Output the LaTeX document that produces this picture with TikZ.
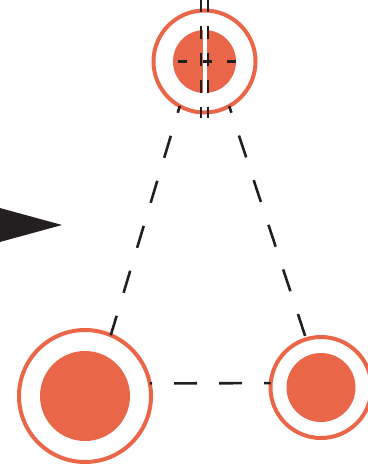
\documentclass[tikz,border=0pt]{standalone}
\definecolor{ringOrange}{HTML}{EA6649}
\definecolor{lineBlack}{HTML}{231F20}

\begin{document}
\begin{tikzpicture}[
    x=1pt, y=-1pt,
    ring/.style={
        circle, draw=ringOrange,
        line width=4pt, inner sep=0pt, outer sep=0pt
    },
    dot/.style={
        circle, fill=ringOrange,
        inner sep=0pt, outer sep=0pt
    },
    link/.style={
        draw=lineBlack, line width=2.6pt,
        dash pattern=on 23pt off 24pt, dash phase=16pt
    },
    crosshair/.style={
        draw=lineBlack, line width=2.4pt
    }
]
  \useasboundingbox (0,0) rectangle (367,468);

  % Nodes
  \node[dot, minimum size=63pt] (topdot) at (204.5,61.5) {};
  \node[ring, minimum size=102pt] (top) at (204.5,61.5) {};

  \node[dot, minimum size=90pt] (leftdot) at (85,396) {};
  \node[ring, minimum size=132pt] (left) at (85,396) {};

  \node[dot, minimum size=69pt] (rightdot) at (321,387.5) {};
  \node[ring, minimum size=101pt] (right) at (321,387.5) {};

  % Crosshair through the top node
  \draw[white, line width=4pt] ([yshift=32pt]topdot.center) -- ([yshift=-32pt]topdot.center);
  \draw[crosshair, dash pattern=on 13pt off 14pt]
      ([xshift=-3.7pt, yshift=62.5pt]top.center) -- ([xshift=-3.7pt, yshift=-56.5pt]top.center);
  \draw[crosshair, dash pattern=on 13pt off 14pt]
      ([xshift=3.7pt, yshift=62.5pt]top.center) -- ([xshift=3.7pt, yshift=-56.5pt]top.center);
  \draw[crosshair, dash pattern=on 9pt off 15.5pt]
      ([xshift=-26.5pt]top.center) -- ([xshift=31.5pt]top.center);

  % Dashed links
  \draw[link] (top.241) -- (left.67);
  \draw[link] (top.299) -- (right.107);
  \draw[link, dash phase=20.7pt, dash pattern=on 23pt off 22pt] (left.11) -- (right.175);

  % Pointer on the left
  \fill[lineBlack] (-10,205.3) -- (62,225) -- (-10,244.7) -- cycle;

\end{tikzpicture}
\end{document}
